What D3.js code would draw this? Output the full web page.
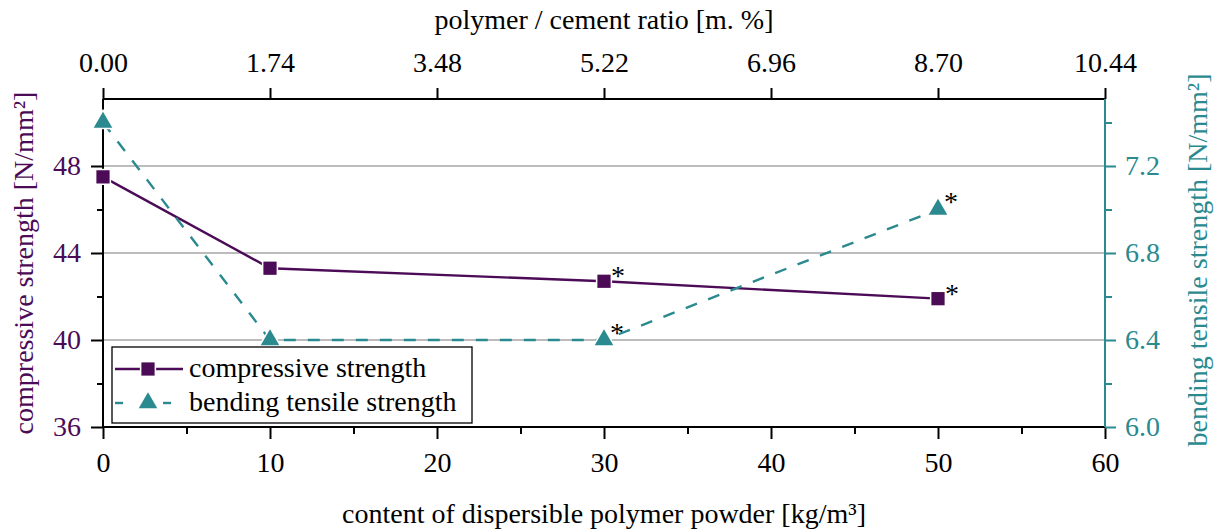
<!DOCTYPE html>
<html>
<head>
<meta charset="utf-8">
<script src="https://cdn.jsdelivr.net/npm/d3@7"></script>
<style>
  html, body { margin: 0; padding: 0; background: #fff; }
  svg { display: block; }
</style>
</head>
<body>
<svg id="chart" width="1214" height="529"></svg>
<script>
// Polymer powder content (kg/m³) on the x axis
const contents = [0, 10, 30, 50];
// Compressive strength (N/mm²), left axis
const compressive = [47.5, 43.3, 42.7, 41.9];
// Bending tensile strength (N/mm²), right axis
const bending = [7.4, 6.4, 6.4, 7.0];
// Points marked with an asterisk
const compressiveStar = [false, false, true, true];
const bendingStar = [false, false, true, true];
// Axis ticks
const bottomTicks = [0, 10, 20, 30, 40, 50, 60];
const topTicks = [0.00, 1.74, 3.48, 5.22, 6.96, 8.70, 10.44];
const leftTicks = [36, 40, 44, 48];
const rightTicks = [6.0, 6.4, 6.8, 7.2];
const seriesNames = ["compressive strength", "bending tensile strength"];

const purple = "#4b0b56";
const teal = "#2a8a8f";
const FONT = "Liberation Serif";
const fontSize = 28;

const svg = d3.select("#chart");
const L = 103, R = 1105, T = 99, B = 427;

const x = d3.scaleLinear().domain([0, 60]).range([L, R]);
const xTop = d3.scaleLinear().domain([0, 10.44]).range([L, R]);
const yL = d3.scaleLinear().domain([36, 51.08]).range([B, T]);
const yR = d3.scaleLinear().domain([6.0, 7.508]).range([B, T]);

function txt(sel) {
  return sel.style("font-family", FONT).style("font-size", fontSize + "px");
}

// Horizontal gridlines at the major left ticks
svg.append("g").selectAll("line")
  .data(leftTicks.filter(d => d > 36))
  .join("line")
  .attr("x1", L).attr("x2", R)
  .attr("y1", d => yL(d)).attr("y2", d => yL(d))
  .attr("stroke", "#a6a6a6").attr("stroke-width", 1.3);

function styleAxis(g, color) {
  g.attr("font-family", null).attr("font-size", null);
  g.selectAll("path.domain").remove();
  g.selectAll(".tick line").attr("stroke", color).attr("stroke-width", 2);
  txt(g.selectAll(".tick text")).attr("fill", color);
}

// Bottom axis (minor ticks first, then majors)
const gBmin = svg.append("g").attr("transform", `translate(0,${B})`)
  .call(d3.axisBottom(x).tickValues(d3.range(5, 60, 10)).tickSize(7).tickFormat(""));
styleAxis(gBmin, "#000");
const gB = svg.append("g").attr("transform", `translate(0,${B})`)
  .call(d3.axisBottom(x).tickValues(bottomTicks).tickSize(12).tickPadding(13).tickFormat(d3.format("d")));
styleAxis(gB, "#000");

// Top axis
const gT = svg.append("g").attr("transform", `translate(0,${T})`)
  .call(d3.axisTop(xTop).tickValues(topTicks).tickSize(11).tickPadding(16).tickFormat(d3.format(".2f")));
styleAxis(gT, "#000");

// Left axis
const gLmin = svg.append("g").attr("transform", `translate(${L},0)`)
  .call(d3.axisLeft(yL).tickValues([38, 42, 46, 50]).tickSize(6).tickFormat(""));
styleAxis(gLmin, "#000");
const gL = svg.append("g").attr("transform", `translate(${L},0)`)
  .call(d3.axisLeft(yL).tickValues(leftTicks).tickSize(12).tickPadding(10).tickFormat(d3.format("d")));
styleAxis(gL, "#000");
gL.selectAll(".tick text").attr("fill", purple);

// Right axis
const gRmin = svg.append("g").attr("transform", `translate(${R},0)`)
  .call(d3.axisRight(yR).tickValues([6.2, 6.6, 7.0, 7.4]).tickSize(7).tickFormat(""));
styleAxis(gRmin, teal);
const gR = svg.append("g").attr("transform", `translate(${R},0)`)
  .call(d3.axisRight(yR).tickValues(rightTicks).tickSize(11).tickPadding(9).tickFormat(d3.format(".1f")));
styleAxis(gR, teal);

// Axis lines
svg.append("line").attr("x1", L).attr("x2", R).attr("y1", B).attr("y2", B).attr("stroke", "#000").attr("stroke-width", 2);
svg.append("line").attr("x1", L).attr("x2", R).attr("y1", T).attr("y2", T).attr("stroke", "#000").attr("stroke-width", 2);
svg.append("line").attr("x1", L).attr("x2", L).attr("y1", T).attr("y2", B + 1).attr("stroke", "#000").attr("stroke-width", 2);
svg.append("line").attr("x1", R).attr("x2", R).attr("y1", T).attr("y2", B).attr("stroke", teal).attr("stroke-width", 2);

// Axis titles
txt(svg.append("text")).attr("x", (L + R) / 2).attr("y", 29).attr("text-anchor", "middle")
  .text("polymer / cement ratio [m. %]");
txt(svg.append("text")).attr("x", (L + R) / 2).attr("y", 523).attr("text-anchor", "middle")
  .text("content of dispersible polymer powder [kg/m³]");
txt(svg.append("text")).attr("transform", `translate(33,${(T + B) / 2}) rotate(-90)`)
  .attr("text-anchor", "middle").attr("fill", purple)
  .text("compressive strength [N/mm²]");
txt(svg.append("text")).attr("transform", `translate(1207,${(T + B) / 2 - 3}) rotate(-90)`)
  .attr("text-anchor", "middle").attr("fill", teal)
  .text("bending tensile strength [N/mm²]");

// Series lines
const compData = contents.map((c, i) => ({ x: c, y: compressive[i], star: compressiveStar[i] }));
const bendData = contents.map((c, i) => ({ x: c, y: bending[i], star: bendingStar[i] }));

svg.append("path").datum(compData)
  .attr("fill", "none").attr("stroke", purple).attr("stroke-width", 2.4)
  .attr("d", d3.line().x(d => x(d.x)).y(d => yL(d.y)));
svg.append("path").datum(bendData)
  .attr("fill", "none").attr("stroke", teal).attr("stroke-width", 2.4)
  .attr("stroke-dasharray", "12,12")
  .attr("d", d3.line().x(d => x(d.x)).y(d => yR(d.y)));

const sq = d3.symbol().type(d3.symbolSquare).size(175);
const tri = d3.symbol().type(d3.symbolTriangle).size(150);

// Markers with a white halo so lines stop short of them
svg.append("g").selectAll("path").data(compData).join("path")
  .attr("transform", d => `translate(${x(d.x)},${yL(d.y)})`)
  .attr("d", sq).attr("fill", purple).attr("stroke", "#fff").attr("stroke-width", 3)
  .attr("paint-order", "stroke");
svg.append("g").selectAll("path").data(bendData).join("path")
  .attr("transform", d => `translate(${x(d.x)},${yR(d.y)})`)
  .attr("d", tri).attr("fill", teal).attr("stroke", "#fff").attr("stroke-width", 3)
  .attr("paint-order", "stroke");

// Asterisks
txt(svg.append("g").selectAll("text").data(compData.filter(d => d.star)).join("text"))
  .attr("x", d => x(d.x) + 7).attr("y", d => yL(d.y) + 4)
  .text("*");
txt(svg.append("g").selectAll("text").data(bendData.filter(d => d.star)).join("text"))
  .attr("x", d => x(d.x) + 6).attr("y", d => yR(d.y) + 2)
  .text("*");

// Legend
const lg = svg.append("g");
lg.append("rect").attr("x", 112).attr("y", 347).attr("width", 360).attr("height", 76)
  .attr("fill", "#fff").attr("stroke", "#000").attr("stroke-width", 1.3);
const rows = [
  { name: seriesNames[0], color: purple, dashed: false, sym: sq, y: 369 },
  { name: seriesNames[1], color: teal, dashed: true, sym: tri, y: 403 }
];
rows.forEach(r => {
  const segs = r.dashed ? [[115, 123], [163, 171]] : [[115, 183]];
  segs.forEach(s => {
    lg.append("line").attr("x1", s[0]).attr("x2", s[1]).attr("y1", r.y).attr("y2", r.y)
      .attr("stroke", r.color).attr("stroke-width", 2.4);
  });
  lg.append("path").attr("transform", `translate(148,${r.y})`)
    .attr("d", r.sym).attr("fill", r.color).attr("stroke", "#fff").attr("stroke-width", 3)
    .attr("paint-order", "stroke");
  txt(lg.append("text")).attr("x", 189).attr("y", r.y + 8).text(r.name);
});
</script>
</body>
</html>
